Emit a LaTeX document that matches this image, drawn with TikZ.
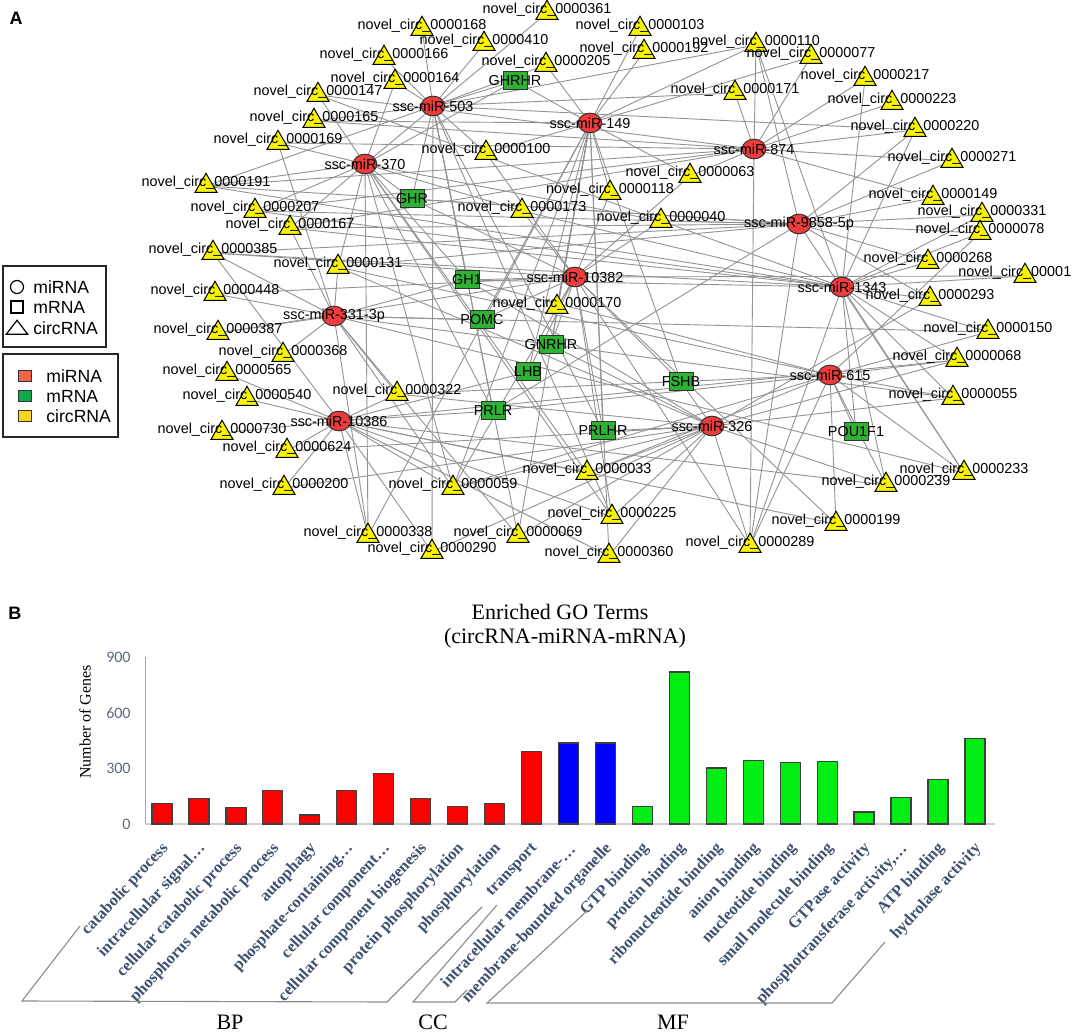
\documentclass[tikz,border=0pt]{standalone}
\usepackage{fontspec}
\setmainfont{Liberation Serif}
\setsansfont{Liberation Sans}
\newfontfamily\carl{Carlito}
\usetikzlibrary{shapes.geometric}
\pgfdeclarelayer{back}\pgfdeclarelayer{bg}\pgfdeclarelayer{fg}
\pgfsetlayers{back,bg,main,fg}
\definecolor{edgegray}{HTML}{939393}
\definecolor{triyellow}{HTML}{F8F400}
\definecolor{mirred}{HTML}{EE3B3B}
\definecolor{mrnagreen}{HTML}{2DB234}
\definecolor{legred}{HTML}{F2644A}
\definecolor{leggreen}{HTML}{12A84C}
\definecolor{legyellow}{HTML}{F9D51C}
\definecolor{barred}{HTML}{FF0000}
\definecolor{barblue}{HTML}{0000FF}
\definecolor{bargreen}{HTML}{00EE11}
\definecolor{tickcol}{HTML}{5A6B84}
\definecolor{xlcol}{HTML}{3F5170}
\definecolor{brackcol}{HTML}{8C8C8C}
\begin{document}
\begin{tikzpicture}[x=0.5pt,y=-0.5pt,
  edge/.style={draw=edgegray,line width=0.45pt},
  tri/.style={regular polygon,regular polygon sides=3,draw=black,fill=triyellow,minimum size=12.7pt,inner sep=0pt,line width=0.5pt},
  mir/.style={ellipse,draw=black!80,fill=mirred,minimum width=11.8pt,minimum height=9.8pt,inner sep=0pt,line width=0.5pt},
  mrna/.style={rectangle,draw=black!80,fill=mrnagreen,minimum width=12pt,minimum height=9pt,inner sep=0pt,line width=0.5pt},
  lbl/.style={font=\sffamily\fontsize{7.2}{8}\selectfont,inner sep=0pt,text=black},
  legtxt/.style={font=\sffamily\fontsize{8.8}{10}\selectfont,inner sep=0pt,anchor=west},
  legbox/.style={draw=black!85,line width=0.7pt},
  panel/.style={font=\sffamily\bfseries\fontsize{9}{10}\selectfont,inner sep=0pt},
  bar/.style={draw=black!75,line width=0.6pt},
  xl/.style={font=\bfseries\fontsize{8.2}{9}\selectfont,text=xlcol,inner sep=0pt,rotate=47,anchor=east},
  tick/.style={font=\carl\fontsize{8}{9}\selectfont,text=tickcol,inner sep=0pt,anchor=east},
  grp/.style={font=\fontsize{11}{12}\selectfont,inner sep=0pt},
  brack/.style={draw=brackcol,line width=0.55pt}
]
\useasboundingbox (0,0) rectangle (1072,1032);
\begin{pgfonlayer}{back}
\fill[white] (0,0) rectangle (1072,1032);
\end{pgfonlayer}

% ---------------- Panel A ----------------
\node[panel] (labA) at (16,18) {A};

% miRNA nodes
\foreach \n/\x/\y/\t in {m503/433/106/ssc-miR-503, m149/590/123/ssc-miR-149, m874/754/149/ssc-miR-874,
  m370/365/164/ssc-miR-370, m9858/799/224/ssc-miR-9858-5p, m10382/575/277/ssc-miR-10382,
  m1343/842/287/ssc-miR-1343, m331/334/316/ssc-miR-331-3p, m615/830/375/ssc-miR-615,
  m10386/339/421/ssc-miR-10386, m326/712/426/ssc-miR-326}{
  \node[mir] (\n) at (\x,\y) {};
  \begin{pgfonlayer}{fg}\node[lbl] (\n-l) at (\x,\y) {\t};\end{pgfonlayer}
}
% mRNA nodes
\foreach \n/\x/\y in {GHRHR/515/81, GHR/412/199, GH1/467/280, POMC/482/320, GNRHR/551/345,
  LHB/528/372, FSHB/681/382, PRLR/493/411, PRLHR/603/431, POU1F1/856/432}{
  \node[mrna] (\n) at (\x,\y) {};
  \begin{pgfonlayer}{fg}\node[lbl] (\n-l) at (\x,\y) {\n};\end{pgfonlayer}
}
% circRNA nodes
\foreach \n/\x/\y in {0000361/547/10, 0000168/422/26, 0000103/640/26, 0000410/484/41, 0000110/756/42,
  0000166/384/55, 0000192/644/49, 0000077/811/54, 0000205/546/62, 0000164/395/79, 0000217/865/76,
  0000147/318/92, 0000171/735/90, 0000223/892/100, 0000165/314/118, 0000220/915/127, 0000169/278/140,
  0000100/486/150, 0000271/952/158, 0000063/690/173, 0000191/206/183, 0000118/610/190, 0000149/933/195,
  0000173/522/208, 0000207/255/208, 0000331/982/212, 0000040/661/218, 0000167/290/225, 0000078/980/230,
  0000385/213/250, 0000131/338/264, 0000268/928/259, 0000448/215/291, 0000293/930/296, 0000170/557/304,
  0000387/218/330, 0000150/988/329, 0000368/283/352, 0000068/957/357, 0000565/227/371, 0000540/247/396,
  0000322/397/391, 0000055/953/395, 0000730/222/430, 0000624/287/448, 0000033/587/470, 0000233/964/470,
  0000200/284/485, 0000059/453/485, 0000239/886/482, 0000225/612/514, 0000199/836/521, 0000338/368/533,
  0000069/518/533, 0000289/750/543, 0000290/432/549, 0000360/609/553}{
  \node[tri] (c\n) at (\x,\y+3) {};
  \begin{pgfonlayer}{fg}\node[lbl] (c\n-l) at (\x,\y) {novel\_circ\_\n};\end{pgfonlayer}
}
\node[tri] (c00001) at (1025,276) {};
\begin{pgfonlayer}{fg}\node[lbl,anchor=west] (c00001-l) at (958,273) {novel\_circ\_00001};\end{pgfonlayer}

% edges
\begin{pgfonlayer}{bg}
\foreach \a/\l in {
 m503/{c0000168,c0000166,c0000164,c0000165,c0000410,c0000100,c0000191,c0000171,c0000110,GHRHR,GHR,GH1,PRLHR,c0000205,c0000225,c0000290,PRLR,c0000069,c0000220},
 m370/{c0000164,c0000147,c0000191,c0000361,c0000173,c0000131,c0000207,c0000167,GHRHR,GHR,GH1,PRLR,c0000059,c0000169,c0000033,c0000225,c0000338,c0000040},
 m149/{c0000103,c0000192,c0000205,c0000110,c0000077,c0000100,c0000118,c0000063,GHRHR,POMC,GNRHR,LHB,FSHB,PRLHR,c0000059,c0000170,c0000338,c0000069,c0000360,c0000165},
 m874/{c0000171,c0000110,c0000077,c0000217,c0000223,c0000220,c0000271,c0000063,c0000147,c0000149,c0000289,c0000191,c0000207,c0000165,c0000169,c0000167},
 m9858/{c0000220,c0000271,c0000149,c0000331,c0000078,c0000268,c0000293,c0000040,c0000207,c0000233,PRLR,c0000289,c0000110,c0000191,c0000167,c0000131,GHR,c0000385},
 m10382/{c0000118,c0000173,c0000040,c0000170,c0000063,c0000100,GHR,GH1,POMC,GNRHR,LHB,FSHB,PRLHR,c0000199,c00001,c0000059,c0000385,c0000448,c0000387,c0000289,c0000225},
 m1343/{c0000217,c0000220,c0000078,c0000331,c0000268,c0000293,c00001,c0000150,c0000068,c0000055,c0000233,c0000239,c0000289,c0000110,c0000167,POU1F1,c0000191,c0000207,c0000147,c0000385,GH1,c0000173},
 m331/{c0000169,c0000131,c0000448,c0000387,c0000368,c0000385,c0000167,c0000069,c0000338,c0000059,GH1,POMC,c0000322,c0000233,c0000055,c0000150},
 m615/{c0000055,c0000233,c0000239,c0000199,c0000068,c0000150,c0000289,POU1F1,c0000059,c0000033,c0000131,c0000322,PRLR,GH1,c0000078},
 m10386/{c0000540,c0000565,c0000730,c0000624,c0000200,c0000338,c0000322,c0000290,c0000225,c0000360,c0000033,LHB,PRLR,c0000059,c0000385,c0000068,c0000239,c0000199},
 m326/{c0000033,c0000225,c0000360,c0000289,c0000055,c0000290,c0000059,c0000069,GNRHR,FSHB,PRLHR,c0000239,c0000068,c0000322,c0000131,c0000200,c0000624,GH1,c0000293}}{
  \foreach \b in \l {\draw[edge] (\a.center) -- (\b.center);}
}
\end{pgfonlayer}

% legend
\draw[legbox] (3,266) rectangle (106,347);
\node[circle,draw=black,line width=0.6pt,minimum size=6.5pt,inner sep=0pt] (lgc) at (17,287) {};
\node[rectangle,draw=black,line width=0.6pt,minimum size=6pt,inner sep=0pt] (lgs) at (17,307) {};
\node[isosceles triangle,isosceles triangle apex angle=75,shape border rotate=90,draw=black,line width=0.6pt,minimum height=7pt,minimum width=9.5pt,inner sep=0pt] (lgt) at (17,329) {};
\node[legtxt] (lg1) at (33,287) {miRNA};
\node[legtxt] (lg2) at (33,307) {mRNA};
\node[legtxt] (lg3) at (33,328) {circRNA};
\draw[legbox] (3,354) rectangle (118,437);
\node[rectangle,draw=black!80,fill=legred,line width=0.6pt,minimum width=6.5pt,minimum height=5.5pt,inner sep=0pt] (lr) at (25,376) {};
\node[rectangle,draw=black!80,fill=leggreen,line width=0.6pt,minimum width=6.5pt,minimum height=5.5pt,inner sep=0pt] (lgr) at (25,396) {};
\node[rectangle,draw=black!80,fill=legyellow,line width=0.6pt,minimum width=6.5pt,minimum height=5.5pt,inner sep=0pt] (ly) at (25,416) {};
\node[legtxt] (lg4) at (46,376) {miRNA};
\node[legtxt] (lg5) at (46,396) {mRNA};
\node[legtxt] (lg6) at (46,416) {circRNA};

% ---------------- Panel B ----------------
\node[panel] (labB) at (15,613) {B};
\node[font=\fontsize{11}{12}\selectfont,inner sep=0pt] (t1) at (560,612) {Enriched GO Terms};
\node[font=\fontsize{11}{12}\selectfont,inner sep=0pt] (t2) at (565,638) {(circRNA-miRNA-mRNA)};
\node[font=\fontsize{8}{9}\selectfont,rotate=90,inner sep=0pt] (ylab) at (85,722) {Number of Genes};
\draw[draw=black!35,line width=0.5pt] (145,657) -- (145,824);
\draw[draw=black!18,line width=0.7pt] (145,824) -- (995,824);
\node[tick] (y900) at (131,657) {900};
\node[tick] (y600) at (131,713) {600};
\node[tick] (y300) at (131,768) {300};
\node[tick] (y0) at (131,824) {0};

\foreach \i/\v/\c/\t in {1/112/barred/catabolic process, 2/139/barred/intracellular signal…,
 3/88/barred/cellular catabolic process, 4/180/barred/phosphorus metabolic process, 5/49/barred/autophagy,
 6/180/barred/phosphate-containing…, 7/274/barred/cellular component…, 8/139/barred/cellular component biogenesis,
 9/94/barred/protein phosphorylation, 10/110/barred/phosphorylation, 11/391/barred/transport,
 12/437/barblue/intracellular membrane-…, 13/437/barblue/membrane-bounded organelle,
 14/94/bargreen/GTP binding, 15/819/bargreen/protein binding, 16/302/bargreen/ribonucleotide binding,
 17/342/bargreen/anion binding, 18/331/bargreen/nucleotide binding, 19/337/bargreen/small molecule binding,
 20/65/bargreen/GTPase activity, 21/144/bargreen/{phosphotransferase activity,…}, 22/239/bargreen/ATP binding,
 23/459/bargreen/hydrolase activity}{
  \pgfmathsetmacro\xc{162+(\i-1)*36.95}
  \draw[bar,fill=\c] (\xc-10,824) rectangle (\xc+10,{824-\v*0.18556});
  \node[xl] (xl\i) at (\xc+4,846) {\t};
}

\draw[brack] (80,926) -- (22,1001) -- (387,1002) -- (482,907);
\draw[brack] (497,905) -- (413,1002) -- (455,1002) -- (467,990);
\draw[brack] (588,910) -- (487,1003) -- (832,1003) -- (885,942);
\node[grp] (gBP) at (230,1022) {BP};
\node[grp] (gCC) at (433,1022) {CC};
\node[grp] (gMF) at (673,1022) {MF};
\end{tikzpicture}
\end{document}
